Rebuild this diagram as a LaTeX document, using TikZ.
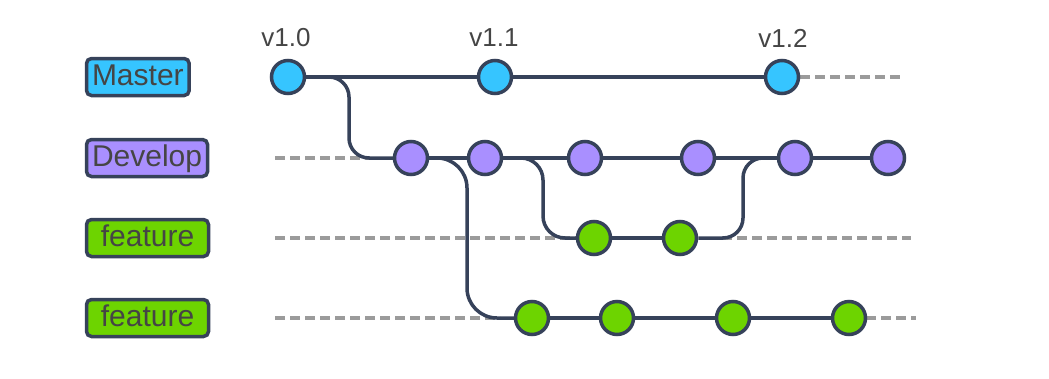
\documentclass[tikz,border=0pt]{standalone}
\usepackage{fontspec}
\setmainfont{Liberation Sans}
\usepackage{tikz}
\usetikzlibrary{calc}
\definecolor{edgecol}{HTML}{36425A}
\definecolor{lanegray}{HTML}{9B9B9B}
\definecolor{txtgray}{HTML}{454545}
\definecolor{masterblue}{HTML}{36C5FF}
\definecolor{devpurple}{HTML}{A98FFF}
\definecolor{featgreen}{HTML}{6DD400}

\begin{document}
\begin{tikzpicture}[x=1pt, y=-1pt,
    commit/.style={circle, draw=edgecol, line width=3.5pt, minimum size=33pt, inner sep=0pt},
    branch/.style={draw=edgecol, line width=3.5pt},
    lane/.style={draw=lanegray, line width=4pt, dash pattern=on 10pt off 5pt},
    tag/.style={draw=edgecol, rounded corners=5pt, line width=3.5pt, text=txtgray, anchor=west,
        minimum height=37pt, inner xsep=5.5pt, text height=22pt, text depth=6pt,
        font=\fontsize{30}{30}\selectfont},
    ver/.style={text=txtgray, font=\fontsize{26}{26}\selectfont}]
    \useasboundingbox (0,0) rectangle (1049,378);

    % lanes
    \draw[lane] (800,77) -- (904,77);
    \draw[lane] (275,158) -- (370,158);
    \draw[lane] (275,238) -- (580,238);
    \draw[lane] (722,238) -- (911,238);
    \draw[lane] (275,318) -- (500,318);
    \draw[lane] (866,318) -- (916,318);

    % branch names
    \node[tag, fill=masterblue] (lmaster) at (84.75,77) {Master};
    \node[tag, fill=devpurple] (ldevelop) at (84.75,158) {Develop};
    \node[tag, fill=featgreen, minimum width=122pt] (lfeatA) at (84.75,238) {feature};
    \node[tag, fill=featgreen, minimum width=122pt] (lfeatB) at (84.75,318) {feature};

    % Master
    \node[commit, fill=masterblue] (m1) at (288,77) {};
    \node[commit, fill=masterblue] (m2) at (495,77) {};
    \node[commit, fill=masterblue] (m3) at (782,77) {};
    \node[ver] (v10) at (286,38) {v1.0};
    \node[ver] (v11) at (494,38) {v1.1};
    \node[ver] (v12) at (783,38) {v1.2};

    % Develop
    \node[commit, fill=devpurple] (d1) at (411,158) {};
    \node[commit, fill=devpurple] (d2) at (485,158) {};
    \node[commit, fill=devpurple] (d3) at (585,158) {};
    \node[commit, fill=devpurple] (d4) at (698,158) {};
    \node[commit, fill=devpurple] (d5) at (795,158) {};
    \node[commit, fill=devpurple] (d6) at (888,158) {};

    % feature A
    \node[commit, fill=featgreen] (fa1) at (594,238) {};
    \node[commit, fill=featgreen] (fa2) at (680,238) {};

    % feature B
    \node[commit, fill=featgreen] (fb1) at (532,318) {};
    \node[commit, fill=featgreen] (fb2) at (617,318) {};
    \node[commit, fill=featgreen] (fb3) at (733,318) {};
    \node[commit, fill=featgreen] (fb4) at (849,318) {};

    % straight history
    \draw[branch] (m1) -- (m2) -- (m3);
    \draw[branch] (d1) -- (d2) -- (d3) -- (d4) -- (d5) -- (d6);
    \draw[branch] (fa1) -- (fa2);
    \draw[branch] (fb1) -- (fb2) -- (fb3) -- (fb4);

    % forks and merges
    \draw[branch, rounded corners=20pt] (m1.east) -| ([xshift=-62pt]d1.center) -- (d1.west);
    \draw[branch, rounded corners=30pt] (d1.east) -| ([xshift=-65pt]fb1.center) -- (fb1.west);
    \draw[branch, rounded corners=22pt] (d2.east) -| ([xshift=-51pt]fa1.center) -- (fa1.west);
    \draw[branch, rounded corners=20pt] (fa2.east) -| ([xshift=-52pt]d5.center) -- (d5.west);
\end{tikzpicture}
\end{document}
